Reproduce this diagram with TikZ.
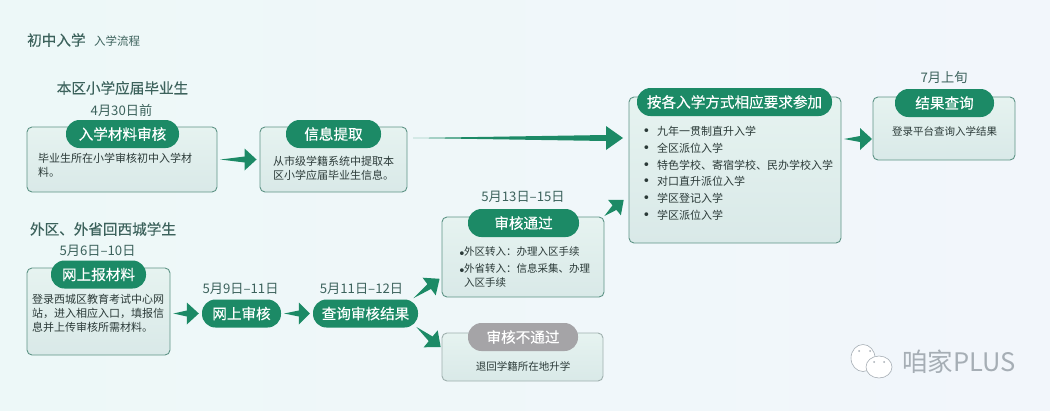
\documentclass[tikz,border=0pt]{standalone}
\usepackage{fontspec}
\setmainfont{Noto Sans CJK SC}
\newfontfamily\medfont[FakeBold=0.25]{Noto Sans CJK SC}
\newfontfamily\dotfont{DejaVu Sans}
\usepackage{tikz}
\usetikzlibrary{calc}
\definecolor{pagel}{HTML}{EDF8F8}
\definecolor{pager}{HTML}{F2F6FB}
\definecolor{boxtop}{HTML}{E6F3F0}
\definecolor{boxbottom}{HTML}{D9E9E8}
\definecolor{boxline}{HTML}{5E9486}
\definecolor{greyline}{HTML}{9FB0AE}
\definecolor{deepgreen}{HTML}{1C8A66}
\definecolor{pillgrey}{HTML}{A5A4A7}
\definecolor{headtext}{HTML}{3C625C}
\definecolor{bodytext}{HTML}{2B3A38}
\definecolor{markgrey}{HTML}{A6AEB5}
\newcommand{\fs}[1]{\fontsize{#1}{14}\selectfont}
\newcommand{\blob}{{\dotfont\fontsize{13}{14}\selectfont •}}
\tikzset{
  infobox/.style={draw=boxline, line width=0.9pt, rounded corners=5pt, inner sep=0pt,
    top color=boxtop, bottom color=boxbottom},
  pill/.style={fill=deepgreen, text=white, rounded corners=13.5pt, inner sep=0pt,
    minimum height=28pt, font=\medfont\fs{14.6}},
  headlabel/.style={text=headtext, inner sep=0pt, font=\medfont\fs{14.6}},
  datelabel/.style={text=headtext, inner sep=0pt, font=\fs{13.2}},
  bodylabel/.style={text=bodytext, inner sep=0pt, align=left, anchor=north west, font=\fs{11}},
  fatarrow/.style 2 args={fill=deepgreen, draw=none, to path={
    ($(\tikztostart)!3pt!(\tikztotarget)$)
    -- ($(\tikztotarget)!#1!(\tikztostart)!3pt!90:(\tikztostart)$)
    -- ($(\tikztotarget)!#1!(\tikztostart)!#2!90:(\tikztostart)$)
    -- ($(\tikztotarget)!3pt!(\tikztostart)$)
    -- ($(\tikztotarget)!#1!(\tikztostart)!#2!-90:(\tikztostart)$)
    -- ($(\tikztotarget)!#1!(\tikztostart)!3pt!-90:(\tikztostart)$)
    -- cycle}},
  bubble/.style={draw=markgrey, fill=white, line width=0.6pt},
}
\begin{document}
\begin{tikzpicture}[x=1pt,y=-1pt]
\useasboundingbox (0,0) rectangle (1050,410);
\shade[left color=pagel, right color=pager] (0,0) rectangle (1050,410);
% title
\node[text=headtext, inner sep=0pt, anchor=west, font=\medfont\fs{14.6}] (title) at (27,40) {初中入学};
\node[text=headtext, inner sep=0pt, anchor=west, font=\fs{11.5}] (subtitle) at (94,41) {入学流程};
% local pupils
\node[headlabel] (localhead) at (122.5,88) {本区小学应届毕业生};
\node[datelabel] (localdate) at (121.5,110) {4月30日前};
\node[infobox, minimum width=190pt, minimum height=65pt] (materialbox) at (122,159.5) {};
\node[pill, minimum width=113pt] (materialpill) at (122.5,134) {入学材料审核};
\node[bodylabel] (materialtext) at (38,153) {毕业生所在小学审核初中入学材\\料。};
\node[infobox, minimum width=147pt, minimum height=65pt] (extractbox) at (333.5,159.5) {};
\node[pill, minimum width=95pt] (extractpill) at (333.5,134) {信息提取};
\node[bodylabel] (extracttext) at (273,156) {从市级学籍系统中提取本\\区小学应届毕业生信息。};
% outside pupils
\node[headlabel] (outhead) at (103,229) {外区、外省回西城学生};
\node[datelabel] (outdate) at (97.5,251) {5月6日–10日};
\node[infobox, minimum width=143pt, minimum height=87pt] (uploadbox) at (98.5,311.5) {};
\node[pill, minimum width=95pt] (uploadpill) at (98.5,274.5) {网上报材料};
\node[bodylabel] (uploadtext) at (32,294) {登录西城区教育考试中心网\\站，进入相应入口，填报信\\息并上传审核所需材料。};
\node[datelabel] (reviewdate) at (240.5,289) {5月9日–11日};
\node[pill, minimum width=79pt] (reviewpill) at (241.5,313.5) {网上审核};
\node[datelabel] (querydate) at (361.5,289) {5月11日–12日};
\node[pill, minimum width=105pt] (querypill) at (365.5,313.5) {查询审核结果};
% result of the check
\node[datelabel] (passdate) at (523,197) {5月13日–15日};
\node[infobox, minimum width=162pt, minimum height=80pt] (passbox) at (523,257) {};
\node[pill, minimum width=111pt] (passpill) at (523.5,223) {审核通过};
\node[bodylabel, font=\fs{10.5}] (passtext) at (458,246)
  {\makebox[6pt][l]{\raisebox{-3pt}{\blob}}外区转入：办理入区手续\\[3pt]\makebox[6pt][l]{\raisebox{-3pt}{\blob}}外省转入：信息采集、办理\\\hspace*{6pt}入区手续};
\node[infobox, draw=greyline, minimum width=161pt, minimum height=48pt] (failbox) at (522.5,357) {};
\node[pill, fill=pillgrey, minimum width=110pt] (failpill) at (523,337) {审核不通过};
\node[text=bodytext, inner sep=0pt, font=\fs{10.5}] (failtext) at (523,366) {退回学籍所在地升学};
% admission
\node[infobox, minimum width=212pt, minimum height=146pt] (joinbox) at (735,170) {};
\node[pill, minimum width=195pt] (joinpill) at (734.5,102) {按各入学方式相应要求参加};
\node[bodylabel, font=\fontsize{11}{16.8}\selectfont] (jointext) at (642.5,126)
  {\makebox[14.5pt][l]{\blob}九年一贯制直升入学\\
   \makebox[14.5pt][l]{\blob}全区派位入学\\
   \makebox[14.5pt][l]{\blob}特色学校、寄宿学校、民办学校入学\\
   \makebox[14.5pt][l]{\blob}对口直升派位入学\\
   \makebox[14.5pt][l]{\blob}学区登记入学\\
   \makebox[14.5pt][l]{\blob}学区派位入学};
\node[datelabel] (lookdate) at (944,78) {7月上旬};
\node[infobox, minimum width=142pt, minimum height=63pt] (lookbox) at (944,128.5) {};
\node[pill, minimum width=99pt] (lookpill) at (944.5,103) {结果查询};
\node[text=bodytext, inner sep=0pt, font=\fs{10.5}] (looktext) at (944.5,131) {登录平台查询入学结果};
% arrow ends away from the box middles
\coordinate (bigtail) at (410,138);
\coordinate (bigtip) at (626,138);
\coordinate (upout) at (411,300);
\coordinate (upin) at (442,277);
\coordinate (downout) at (414,325);
\coordinate (downin) at (443,349);
\coordinate (joinout) at (602,218);
\coordinate (joinin) at (626,198);
\coordinate (lookout) at (841,139);
\coordinate (lookin) at (875,139);
\path[fatarrow={15pt}{11pt}]
  (materialbox.east) to (extractbox.west);
\path[fatarrow={20pt}{12pt}]
  (bigtail) to (bigtip);
\path[fatarrow={15pt}{11pt}]
  (uploadbox.east |- reviewpill) to (reviewpill.west);
\path[fatarrow={14pt}{11pt}]
  (reviewpill.east) to (querypill.west);
\path[fatarrow={16pt}{11pt}]
  (upout) to (upin);
\path[fatarrow={16pt}{11pt}]
  (downout) to (downin);
\path[fatarrow={15pt}{10pt}]
  (joinout) to (joinin);
\path[fatarrow={15pt}{11pt}]
  (lookout) to (lookin);
% mark in the corner
\draw[bubble] (863,358) ellipse (12 and 13.5);
\draw[bubble] (879,367) ellipse (13 and 11);
\fill[markgrey] (859,351) circle (1) (870,351) circle (1) (874,362) circle (1) (884,362) circle (1);
\node[text=markgrey, inner sep=0pt, anchor=west, font=\fs{25.5}] (mark) at (902,362) {咱家PLUS};
\end{tikzpicture}
\end{document}
